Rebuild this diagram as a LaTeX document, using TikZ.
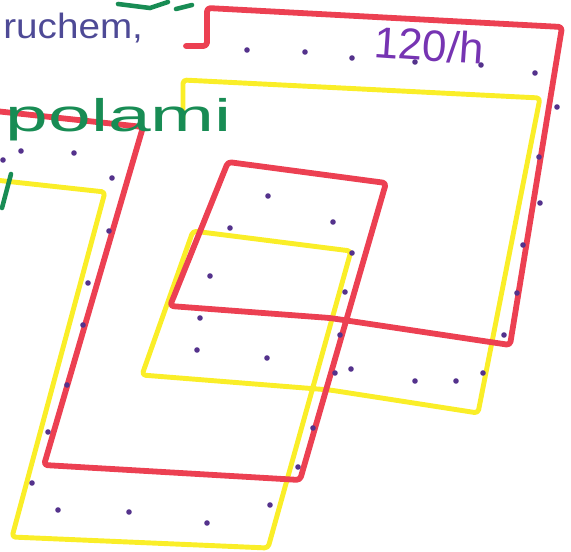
\documentclass[tikz,border=0pt]{standalone}
\usepackage{fontspec}
\usepackage{graphicx}
\setmainfont{Liberation Sans}
\usepackage{tikz}
\definecolor{redpen}{RGB}{236,64,82}
\definecolor{yellowpen}{RGB}{250,238,40}
\definecolor{greenpen}{RGB}{24,140,84}
\definecolor{purplepen}{RGB}{118,52,178}
\definecolor{bluepen}{RGB}{78,74,150}
\definecolor{dotcol}{RGB}{84,50,140}
\tikzset{
  redline/.style    ={draw=redpen, line width=3.3pt, line join=round, line cap=round, rounded corners=2pt},
  yellowline/.style ={draw=yellowpen, line width=2.8pt, line join=round, line cap=round, rounded corners=2pt},
  greenline/.style  ={draw=greenpen, line width=2.6pt, line cap=round},
  dot/.style        ={fill=dotcol},
  lbl/.style        ={inner sep=0pt, outer sep=0pt},
}

\begin{document}
\begin{tikzpicture}[x=0.02cm, y=-0.02cm]
    \path[use as bounding box, clip] (0,0) rectangle (571,551);

    % yellow spiral
    \draw[yellowline] (183,119) -- (183,80) -- (540,98) -- (478,413) -- (330,390)
        -- (142,375) -- (193,231) -- (351,251) -- (268,548) -- (12,537)
        -- (105,192) -- (-5,180);

    % red spiral
    \draw[redline] (186,46) -- (207,46) -- (207,8) -- (562,27) -- (510,345)
        -- (330,318) -- (170,306) -- (228,162) -- (386,183) -- (300,480)
        -- (44,465) -- (143,127) -- (-5,111);

    % dots
    \foreach \x/\y in {247/50, 305/52, 352/58, 415/62, 481/65, 535/73, 557/107,
                       539/157, 540/203, 523/245, 517/293, 504/335, 483/373,
                       456/381, 415/381, 351/369, 335/373, 340/335, 345/292,
                       352/253, 333/222, 268/196, 230/228, 210/276, 200/318,
                       197/350, 267/358, 313/428, 298/467, 83/325, 67/385,
                       48/432, 32/483, 58/510, 129/512, 207/523, 270/505,
                       21/151, 74/153, 112/178, 109/231, 88/283, 3/160}{
      \fill[dot] (\x,\y) circle (2.8);
    }

    % handwriting
    \node[lbl, text=bluepen, anchor=base east, font=\fontsize{20}{24}\selectfont]
        (motion) at (143,38) {\scalebox{1.1}[1]{ruchem,}};
    \node[lbl, text=greenpen, anchor=base east, font=\fontsize{26}{30}\selectfont]
        (fields) at (232,131) {\scalebox{1.68}[1]{polami}};
    \node[lbl, text=purplepen, anchor=base west, rotate=-4, font=\fontsize{25}{30}\selectfont]
        (speed) at (373,57) {120/h};

    % cut-off strokes at the edges
    \draw[greenline] (11,174) -- (2,208);
    \draw[greenline] (118,4) -- (150,8) -- (168,2);
    \draw[greenline] (176,9) -- (192,5);
\end{tikzpicture}
\end{document}
